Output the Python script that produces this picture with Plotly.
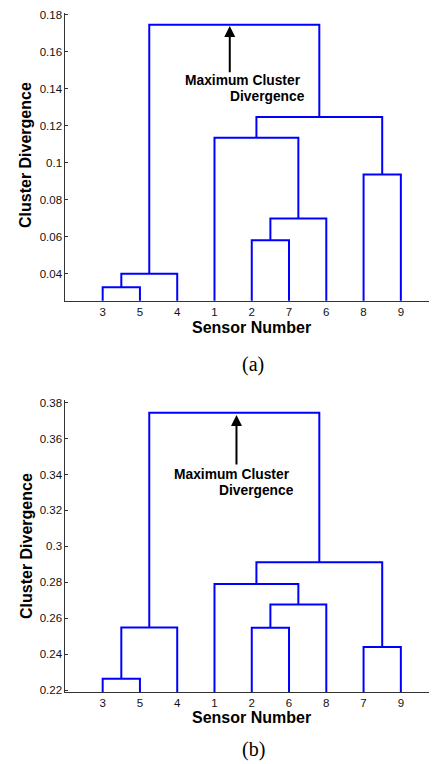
import plotly.graph_objects as go

# ---------------- data ----------------
leaf_order_a = ["3", "5", "4", "1", "2", "7", "6", "8", "9"]
merge_left_a = ["3", "c10", "2", "c12", "1", "8", "c14", "c11"]
merge_right_a = ["5", "4", "7", "6", "c13", "9", "c15", "c16"]
merge_height_a = [0.0326, 0.0400, 0.0581, 0.0698, 0.1135, 0.0936, 0.1246, 0.1745]

leaf_order_b = ["3", "5", "4", "1", "2", "6", "8", "7", "9"]
merge_left_b = ["3", "c10", "2", "c12", "1", "7", "c14", "c11"]
merge_right_b = ["5", "4", "6", "8", "c13", "9", "c15", "c16"]
merge_height_b = [0.2263, 0.2548, 0.2547, 0.2676, 0.2791, 0.2439, 0.2911, 0.3744]

yticks_a = [0.04, 0.06, 0.08, 0.10, 0.12, 0.14, 0.16, 0.18]
yticktext_a = ["0.04", "0.06", "0.08", "0.1", "0.12", "0.14", "0.16", "0.18"]
yticks_b = [0.22, 0.24, 0.26, 0.28, 0.30, 0.32, 0.34, 0.36, 0.38]
yticktext_b = ["0.22", "0.24", "0.26", "0.28", "0.3", "0.32", "0.34", "0.36", "0.38"]


def dendro_path(order, lefts, rights, heights):
    pos = {lab: i + 1 for i, lab in enumerate(order)}
    hgt = {lab: 0.0 for lab in order}
    xs, ys = [], []
    for k, (l, r, h) in enumerate(zip(lefts, rights, heights)):
        xl, xr = pos[l], pos[r]
        xs += [xl, xl, xr, xr, None]
        ys += [hgt[l], h, h, hgt[r], None]
        cid = "c%d" % (10 + k)
        pos[cid] = (xl + xr) / 2
        hgt[cid] = h
    return xs, ys


fig = go.Figure()
xa, ya = dendro_path(leaf_order_a, merge_left_a, merge_right_a, merge_height_a)
xb, yb = dendro_path(leaf_order_b, merge_left_b, merge_right_b, merge_height_b)
line = dict(color="#0000FF", width=2)
fig.add_trace(go.Scatter(x=xa, y=ya, mode="lines", line=line, xaxis="x", yaxis="y",
                         hoverinfo="skip", showlegend=False))
fig.add_trace(go.Scatter(x=xb, y=yb, mode="lines", line=line, xaxis="x2", yaxis="y2",
                         hoverinfo="skip", showlegend=False))

# page body has an 8px margin: figure is placed at (8, 8) in the window
OFF = 8
W, H = 437 - OFF, 764 - OFF


def px(x):
    return (x - OFF) / W


def py(y):
    return 1 - (y - OFF) / H


axcol = "#333333"
tickfont = dict(family="Liberation Sans, Arial, sans-serif", size=11.5, color="#111111")
common_x = dict(range=[0, 9.97], showgrid=False, zeroline=False, showline=True,
                linecolor=axcol, linewidth=1, ticks="", tickfont=tickfont,
                tickvals=list(range(1, 10)), domain=[px(65.4), 1], automargin=False)
common_y = dict(showgrid=False, zeroline=False, showline=True, linecolor=axcol,
                linewidth=1, ticks="inside", ticklen=3, tickcolor=axcol,
                tickfont=tickfont, automargin=False)

fig.update_layout(
    width=W, height=H, margin=dict(l=0, r=0, t=0, b=0, autoexpand=False),
    paper_bgcolor="white", plot_bgcolor="white", showlegend=False,
    xaxis=dict(common_x, anchor="y", ticktext=leaf_order_a),
    yaxis=dict(common_y, anchor="x", range=[0.0254, 0.1811],
               domain=[py(300.7), py(12.5)],
               tickvals=yticks_a, ticktext=yticktext_a),
    xaxis2=dict(common_x, anchor="y2", ticktext=leaf_order_b),
    yaxis2=dict(common_y, anchor="x2", range=[0.2189, 0.3815],
                domain=[py(692), py(400)],
                tickvals=yticks_b, ticktext=yticktext_b),
)

bold = dict(family="Liberation Sans, Arial, sans-serif", size=16, color="black")
ann_font = dict(family="Liberation Sans, Arial, sans-serif", size=13.8, color="black")
serif = dict(family="Liberation Serif, Times New Roman, serif", size=20, color="black")


def label(text, x, y, font, xanchor="center", angle=0):
    return dict(text=text, x=px(x), y=py(y), xref="paper", yref="paper",
                textangle=angle, showarrow=False, font=font, xanchor=xanchor,
                yanchor="middle")


annotations = [
    # axis titles
    label("<b>Cluster Divergence</b>", 26, 155, bold, angle=-90),
    label("<b>Sensor Number</b>", 251.5, 327, bold),
    label("<b>Cluster Divergence</b>", 26, 546, bold, angle=-90),
    label("<b>Sensor Number</b>", 251.5, 717.5, bold),
    label("(a)", 253, 364, serif),
    label("(b)", 253, 749, serif),
    # annotation texts
    label("<b>Maximum Cluster</b>", 303, 80, ann_font, xanchor="right"),
    label("<b>Divergence</b>", 306.5, 96, ann_font, xanchor="right"),
    label("<b>Maximum Cluster</b>", 292, 475, ann_font, xanchor="right"),
    label("<b>Divergence</b>", 296, 491, ann_font, xanchor="right"),
    # arrows
    dict(x=4.41, y=0.1738, ax=4.41, ay=0.148, xref="x", yref="y", axref="x", ayref="y",
         showarrow=True, arrowhead=2, arrowsize=1.1, arrowwidth=2, arrowcolor="black", text=""),
    dict(x=4.59, y=0.3731, ax=4.59, ay=0.3447, xref="x2", yref="y2", axref="x2", ayref="y2",
         showarrow=True, arrowhead=2, arrowsize=1.1, arrowwidth=2, arrowcolor="black", text=""),
]
fig.update_layout(annotations=annotations)

fig.write_html("out.html")
